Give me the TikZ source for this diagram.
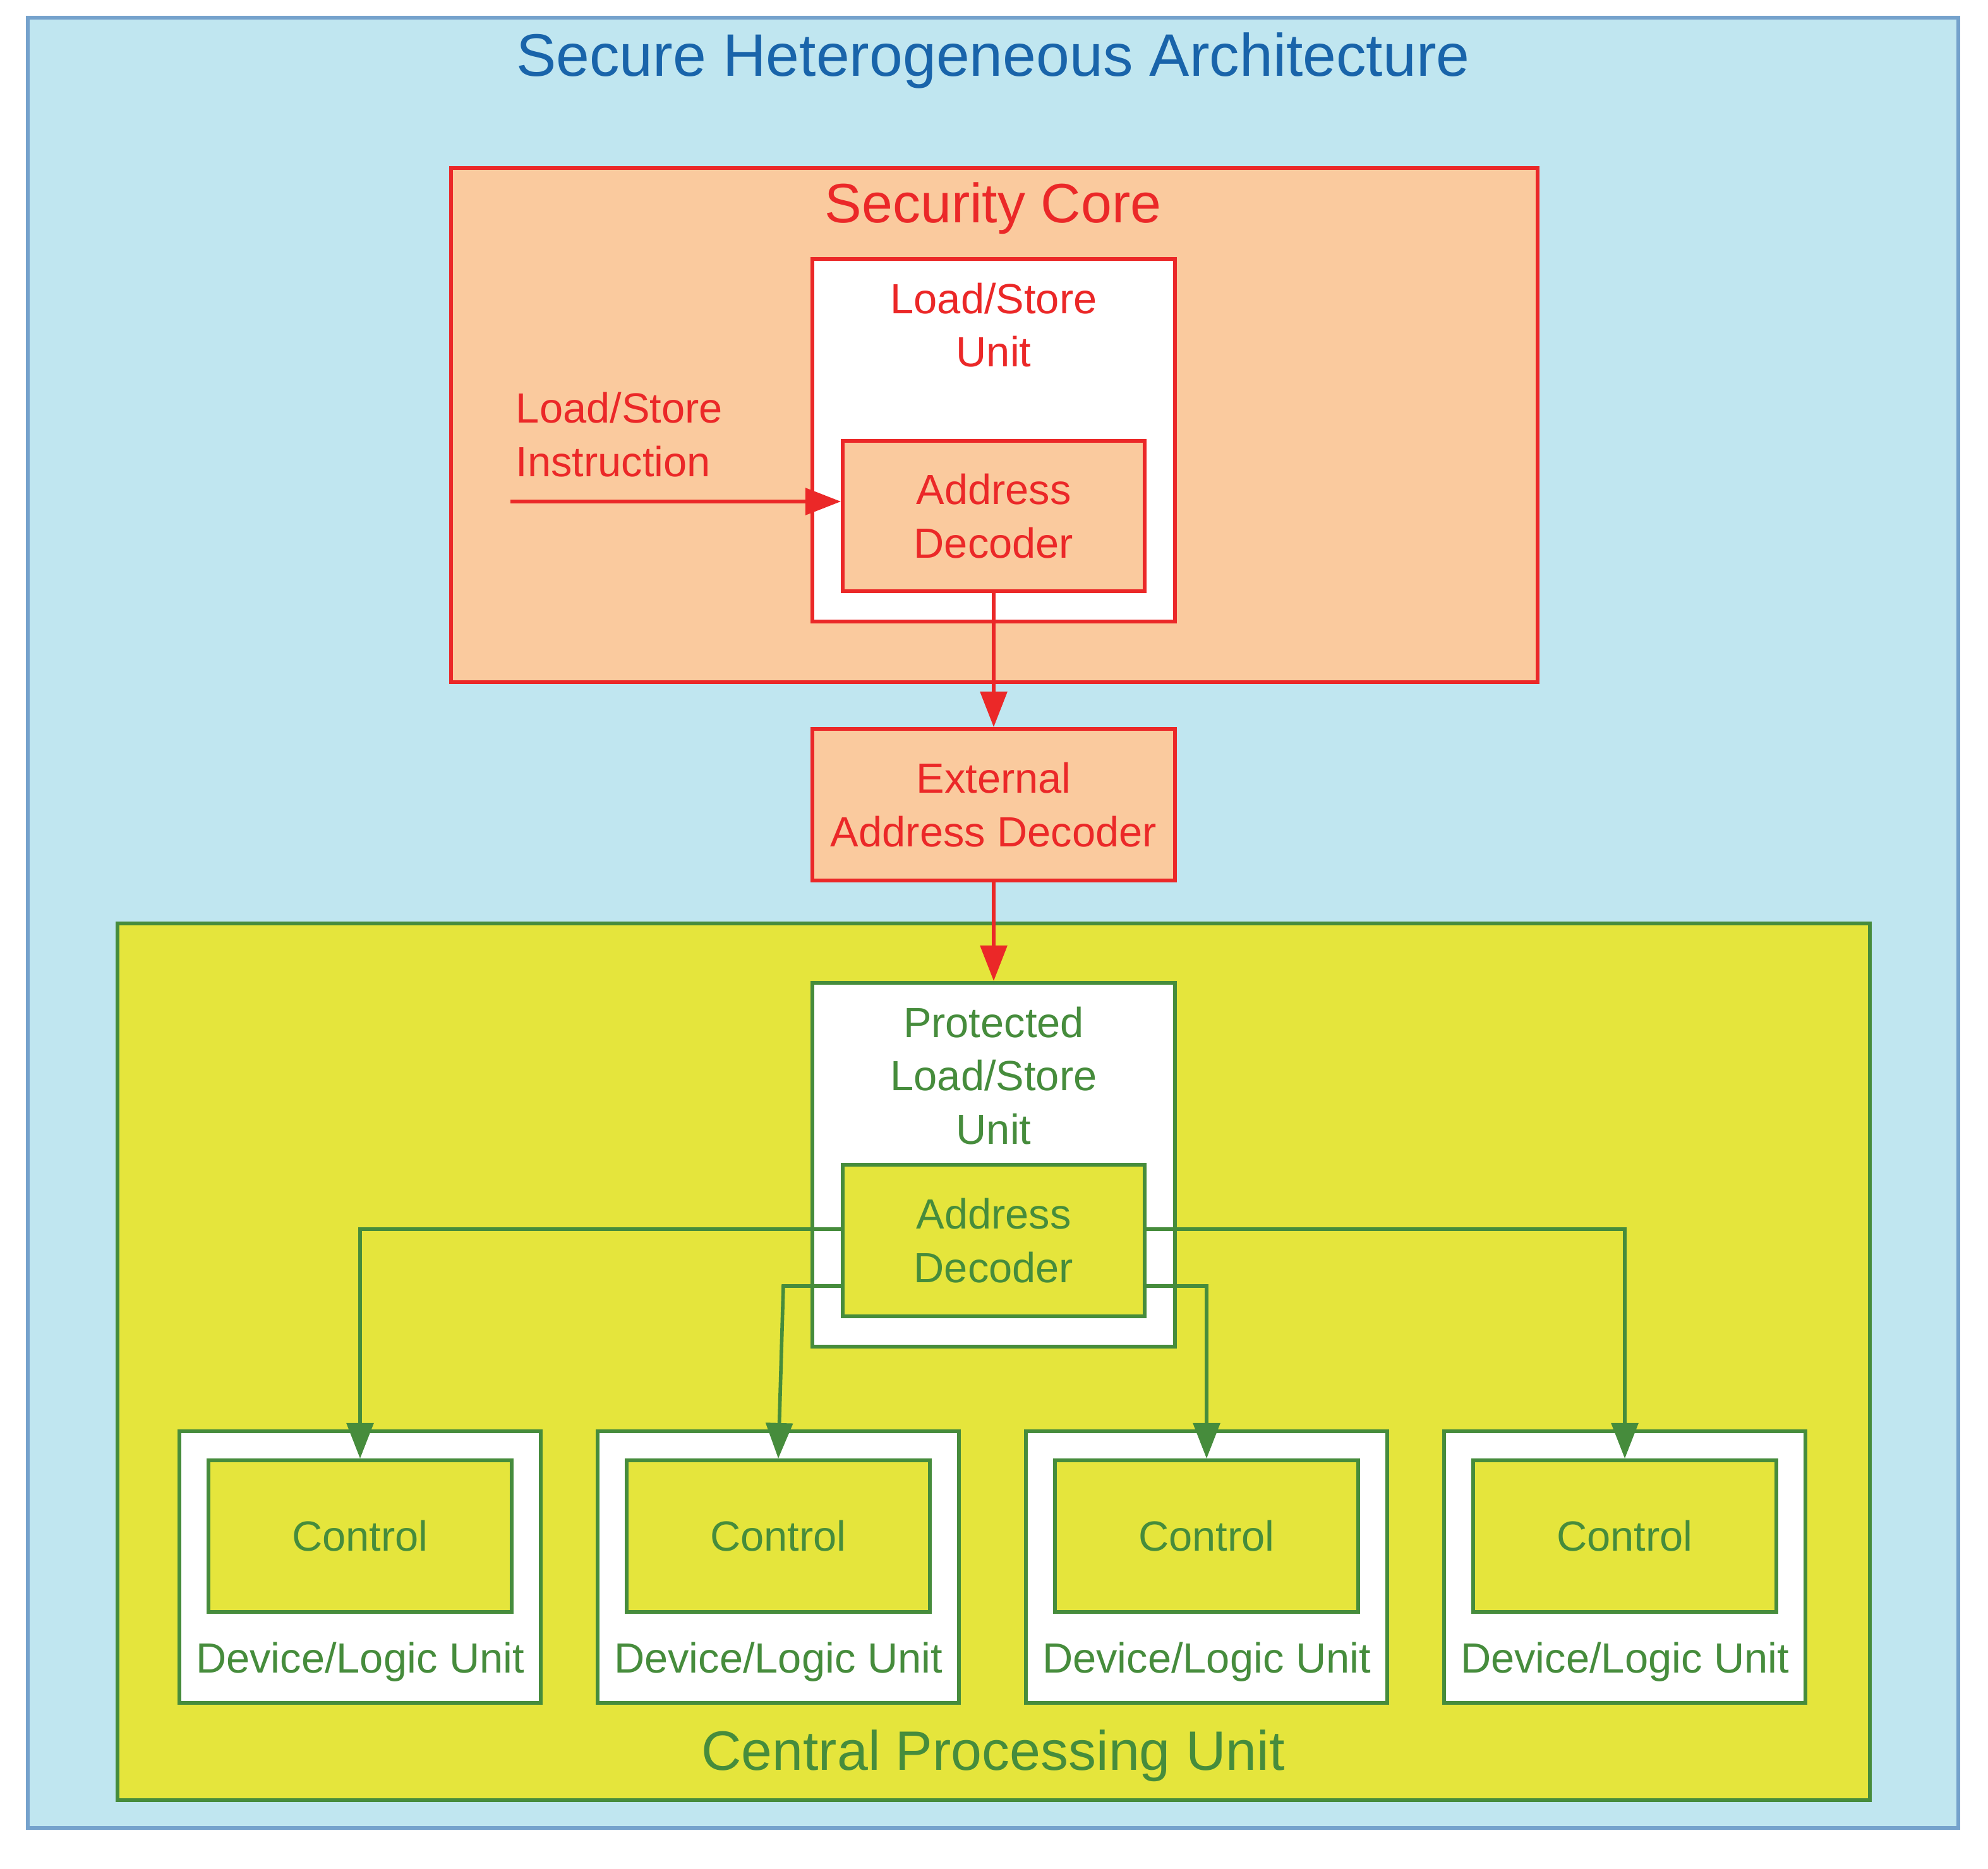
\documentclass[tikz,border=0pt]{standalone}
\usepackage{fontspec}
\setmainfont{Liberation Sans}
\usetikzlibrary{arrows.meta, positioning}
\definecolor{skyback}{RGB}{192,230,240}
\definecolor{coreback}{RGB}{250,202,158}
\definecolor{cpuback}{RGB}{229,229,60}
\definecolor{coreline}{RGB}{235,40,40}
\definecolor{cpuline}{RGB}{70,140,60}
\definecolor{titleblue}{RGB}{25,100,170}
\tikzset{
  box/.style    = {draw, rectangle, line width=0.8pt, inner sep=0pt},
  redbox/.style = {box, draw=coreline, fill=coreback},
  grnbox/.style = {box, draw=cpuline, fill=cpuback},
  redtxt/.style = {text=coreline, font=\fontsize{9.5}{12}\selectfont, align=center},
  grntxt/.style = {text=cpuline, font=\fontsize{9.5}{12}\selectfont, align=center},
  redarr/.style = {draw=coreline, line width=0.8pt, -{Triangle[length=8pt,width=6pt]}},
  grnarr/.style = {draw=cpuline, line width=0.8pt, -{Triangle[length=8pt,width=6pt]}}
}
\begin{document}
\begin{tikzpicture}[x=0.01cm, y=-0.01cm]
  \useasboundingbox (0,0) rectangle (1573.5,1479);
  % frames
  \draw[fill=skyback, draw=titleblue!60, line width=0.8pt] (22,14) rectangle (1550,1447);
  \node[text=titleblue, font=\fontsize{13.5}{16}\selectfont] (title) at (786,48) {Secure Heterogeneous Architecture};
  \draw[redbox] (357,133) rectangle (1217,540);
  \node[text=coreline, font=\fontsize{12.5}{15}\selectfont] (coretitle) at (786,165) {Security Core};
  \draw[grnbox] (93,731) rectangle (1480,1425);
  \node[text=cpuline, font=\fontsize{12.5}{15}\selectfont] (cputitle) at (786,1390) {Central Processing Unit};
  % security core
  \node[box, draw=coreline, fill=white, minimum width=2.87cm, minimum height=2.87cm] (lsu) at (786.5,348.5) {};
  \node[redtxt, below=0.08cm of lsu.north] (lsutxt) {Load/Store\\Unit};
  \node[redbox, minimum width=2.39cm, minimum height=1.19cm, redtxt] (dec) at (786.5,408.5) {Address\\Decoder};
  \node[redtxt, align=left, anchor=west] (instr) at (396,344) {Load/Store\\Instruction};
  \coordinate (instrend) at (404,397);
  \draw[redarr] (instrend) -- (dec.west |- instrend);
  \node[redbox, minimum width=2.87cm, minimum height=1.2cm, redtxt] (ext) at (786.5,637) {External\\Address Decoder};
  \draw[redarr] (dec) -- (ext);
  % cpu
  \node[box, draw=cpuline, fill=white, minimum width=2.87cm, minimum height=2.88cm] (plsu) at (786.5,922) {};
  \node[grntxt, below=0.08cm of plsu.north] (plsutxt) {Protected\\Load/Store\\Unit};
  \node[grnbox, minimum width=2.39cm, minimum height=1.2cm, grntxt] (pdec) at (786.5,982) {Address\\Decoder};
  \draw[redarr] (ext) -- (plsu);
  \foreach \n/\x in {1/285, 2/616, 3/955, 4/1286}{
    \node[box, draw=cpuline, fill=white, minimum width=2.86cm, minimum height=2.15cm] (dev\n) at (\x,1240.5) {};
    \node[grnbox, minimum width=2.4cm, minimum height=1.2cm, grntxt] (ctl\n) at (\x,1216) {Control};
    \node[grntxt, above=0.06cm of dev\n.south] (devtxt\n) {Device/Logic Unit};
  }
  \draw[grnarr] (pdec.west |- 0,973) -| (ctl1.north);
  \draw[grnarr] (pdec.west |- 0,1018) -- (620,1018) -- (ctl2.north);
  \draw[grnarr] (pdec.east |- 0,1018) -| (ctl3.north);
  \draw[grnarr] (pdec.east |- 0,973) -| (ctl4.north);
\end{tikzpicture}
\end{document}
